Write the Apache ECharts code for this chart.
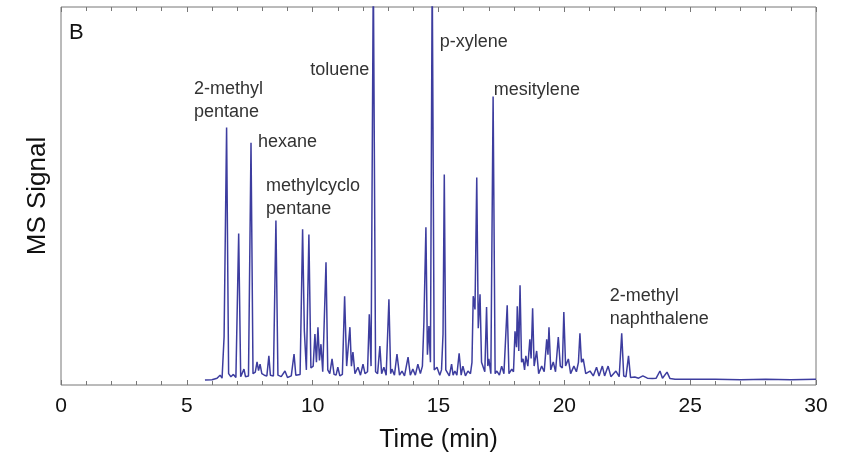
<!DOCTYPE html>
<html>
<head>
<meta charset="utf-8">
<script src="https://cdn.jsdelivr.net/npm/echarts@6/dist/echarts.min.js"></script>
<style>
html,body{margin:0;padding:0;background:#fff;}
#chart{width:846px;height:458px;}
</style>
</head>
<body>
<div id="chart"></div>
<script>
// Retention time (min) and MS signal (relative units, 0-100 = plot height)
var signal = [
[5.72,1.3],[6.0,1.4],[6.2,1.8],[6.32,2.6],[6.4,1.8],[6.48,12.7],[6.58,68.1],[6.66,3.0],[6.75,2.2],[6.85,2.8],[6.95,2.0],
[7.06,40.1],[7.14,2.2],[7.2,2.0],[7.27,4.2],[7.33,2.2],[7.45,2.4],[7.55,64.1],[7.63,3.0],[7.72,3.4],[7.79,6.1],[7.85,3.8],
[7.91,5.5],[7.98,3.0],[8.08,2.6],[8.18,2.4],[8.26,7.7],[8.32,2.6],[8.44,2.4],[8.54,43.5],[8.62,2.6],[8.75,2.2],[8.9,3.7],
[9.0,2.0],[9.15,2.4],[9.26,8.2],[9.33,2.6],[9.5,2.8],[9.60,41.2],[9.67,14.2],[9.75,4.0],[9.85,39.8],[9.93,4.5],[10.02,5.0],
[10.09,13.5],[10.15,6.0],[10.21,15.3],[10.27,6.5],[10.33,10.8],[10.4,3.5],[10.46,3.0],[10.53,32.5],[10.6,4.0],[10.68,3.0],
[10.77,6.9],[10.85,2.8],[10.93,2.6],[11.0,4.7],[11.08,2.4],[11.18,2.8],[11.27,23.5],[11.35,5.0],[11.42,4.5],[11.48,15.3],
[11.54,5.0],[11.6,8.7],[11.68,3.0],[11.8,4.7],[11.9,2.6],[12.0,5.5],[12.08,3.0],[12.18,3.5],[12.25,18.7],[12.32,5.0],
[12.41,110],[12.5,3.5],[12.58,3.0],[12.67,10.3],[12.74,3.0],[12.83,4.7],[12.92,2.6],[13.03,22.7],[13.1,3.0],[13.15,4.2],
[13.25,2.6],[13.35,8.2],[13.45,2.6],[13.55,3.7],[13.65,2.4],[13.79,7.4],[13.88,2.6],[13.98,4.2],[14.08,2.6],[14.18,5.5],
[14.28,3.0],[14.36,5.0],[14.42,16.6],[14.50,41.7],[14.56,8.0],[14.62,15.6],[14.68,6.0],[14.75,110],[14.83,4.0],[14.94,4.7],
[15.05,2.6],[15.12,4.0],[15.18,13.5],[15.23,55.7],[15.29,4.0],[15.34,4.2],[15.43,2.4],[15.52,5.5],[15.58,2.6],[15.65,3.7],
[15.73,2.6],[15.82,8.4],[15.9,2.6],[15.97,5.0],[16.07,2.4],[16.17,3.7],[16.27,3.0],[16.33,6.0],[16.38,23.5],[16.45,20.0],
[16.52,54.9],[16.58,15.0],[16.65,24.0],[16.71,6.0],[16.77,5.5],[16.84,3.5],[16.91,20.6],[16.96,5.0],[17.0,6.9],[17.08,3.0],
[17.17,76.3],[17.25,3.0],[17.32,3.7],[17.42,2.6],[17.51,5.0],[17.6,3.0],[17.73,21.1],[17.8,3.0],[17.91,4.2],[17.98,3.5],
[18.04,14.2],[18.1,10.0],[18.13,20.8],[18.19,9.0],[18.24,26.4],[18.3,6.0],[18.36,6.9],[18.42,4.0],[18.47,7.7],[18.55,5.0],
[18.63,12.1],[18.68,7.0],[18.74,20.3],[18.8,5.0],[18.9,9.0],[18.98,3.0],[19.1,5.0],[19.2,3.5],[19.3,12.1],[19.35,8.0],
[19.39,15.3],[19.46,4.0],[19.56,6.1],[19.65,3.5],[19.76,12.7],[19.84,5.0],[19.92,4.5],[19.98,19.3],[20.05,5.0],[20.16,6.9],
[20.25,3.0],[20.38,5.0],[20.48,3.5],[20.56,6.0],[20.62,13.7],[20.68,6.0],[20.75,6.9],[20.85,3.0],[21.02,3.7],[21.15,2.4],
[21.28,4.7],[21.38,2.4],[21.51,5.0],[21.6,2.4],[21.74,5.0],[21.85,2.2],[22.05,3.7],[22.18,2.2],[22.28,13.7],[22.36,2.4],
[22.45,2.2],[22.55,7.7],[22.63,2.0],[22.8,2.1],[22.95,1.8],[23.12,2.4],[23.3,1.8],[23.5,1.7],[23.65,1.8],[23.8,3.7],
[23.9,1.8],[24.08,3.4],[24.2,1.7],[24.4,1.5],[25,1.5],[26,1.5],[27,1.4],[28,1.5],[29,1.4],[30,1.5]
];
var xTicks = [0, 5, 10, 15, 20, 25, 30];
var annotations = [
  {text: '2-methyl\npentane', t: 5.28, v: 75.2},
  {text: 'hexane', t: 7.83, v: 64.4},
  {text: 'methylcyclo\npentane', t: 8.15, v: 49.5},
  {text: 'toluene', t: 9.9, v: 83.4},
  {text: 'p-xylene', t: 15.05, v: 90.8},
  {text: 'mesitylene', t: 17.2, v: 78.1},
  {text: '2-methyl\nnaphthalene', t: 21.8, v: 20.6}
];

var chart = echarts.init(document.getElementById('chart'), null, {renderer: 'canvas'});
var FONT = '"Liberation Sans", Arial, sans-serif';
var axisCommon = {
  type: 'value', min: xTicks[0], max: xTicks[xTicks.length - 1], interval: 5,
  axisLine: {show: false},
  axisTick: {show: true, inside: true, length: 5, lineStyle: {color: '#777', width: 1}},
  minorTick: {show: true, splitNumber: 5, length: 4, lineStyle: {color: '#777', width: 1}},
  splitLine: {show: false}, minorSplitLine: {show: false}
};
chart.setOption({
  animation: false,
  backgroundColor: '#fff',
  grid: {left: 61, right: 30, top: 7, bottom: 72, show: true, borderColor: '#777', borderWidth: 1, backgroundColor: 'transparent'},
  xAxis: [
    Object.assign({}, axisCommon, {
      position: 'bottom',
      name: 'Time (min)', nameLocation: 'middle', nameGap: 43,
      nameTextStyle: {fontFamily: FONT, fontSize: 25, color: '#111'},
      axisLabel: {show: true, margin: 11, fontFamily: FONT, fontSize: 21, color: '#111',
        formatter: function (v) { return xTicks.indexOf(v) >= 0 ? String(v) : ''; }}
    }),
    Object.assign({}, axisCommon, {position: 'top', axisLabel: {show: false}})
  ],
  yAxis: {
    type: 'value', min: 0, max: 100,
    name: 'MS Signal', nameLocation: 'middle', nameGap: 10, nameRotate: 90,
    nameTextStyle: {fontFamily: FONT, fontSize: 26, color: '#111'},
    axisLine: {show: false}, axisTick: {show: false}, axisLabel: {show: false}, splitLine: {show: false}
  },
  series: [{
    type: 'line', xAxisIndex: 0, data: signal, showSymbol: false, symbol: 'none',
    clip: true,
    lineStyle: {color: '#3d3d9f', width: 1.5},
    markPoint: {
      symbol: 'circle', symbolSize: 0,
      label: {show: true, position: 'right', distance: 0, fontFamily: FONT, fontSize: 18, color: '#333', lineHeight: 23, align: 'left'},
      data: annotations.map(function (a) {
        return {coord: [a.t, a.v], value: a.text, label: {formatter: a.text}};
      })
    }
  }],
  graphic: [{
    type: 'text', left: 69, top: 22,
    style: {text: 'B', font: '22px ' + FONT, fill: '#111'}
  }]
});
</script>
</body>
</html>
